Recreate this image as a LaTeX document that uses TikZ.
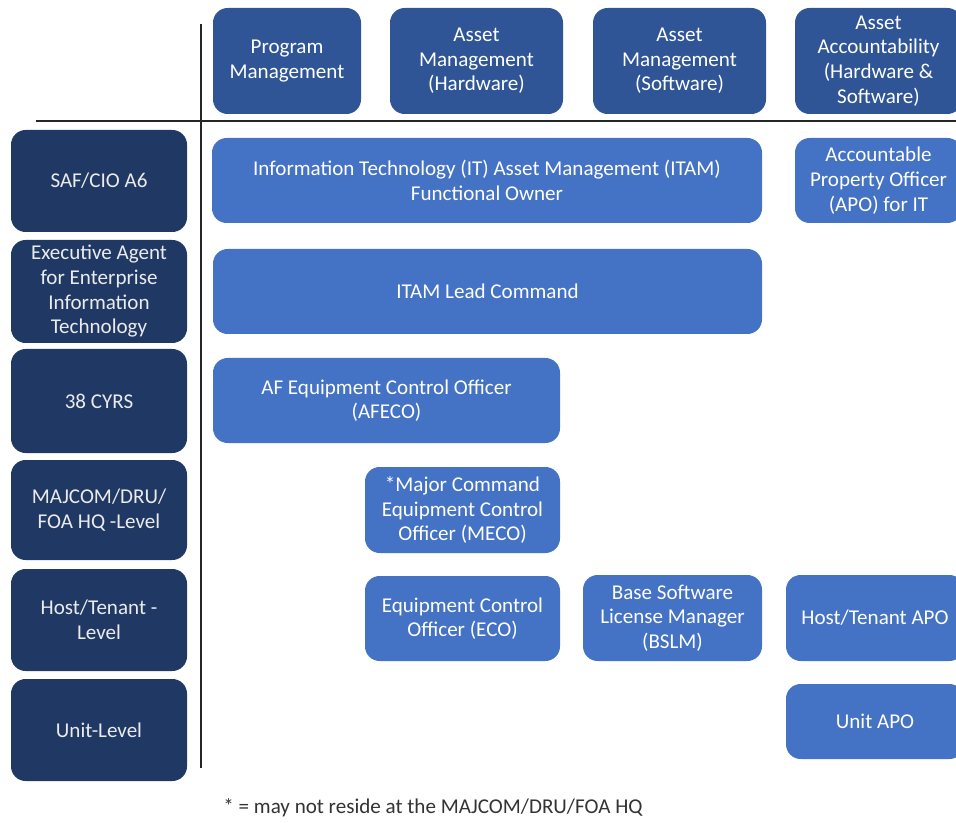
\documentclass[tikz,border=0pt]{standalone}
\usepackage{fontspec}
\setmainfont{Carlito}
\definecolor{hdrblue}{HTML}{2F5597}
\definecolor{navy}{HTML}{1F3864}
\definecolor{cellblue}{HTML}{4472C4}
\definecolor{notegray}{HTML}{333333}
\begin{document}
\begin{tikzpicture}[x=0.75pt,y=-0.75pt,
  base/.style={rounded corners=11pt, inner sep=0pt, text=white, align=center,
    font=\fontsize{15.8}{18.5}\selectfont},
  hdr/.style={base, fill=hdrblue, minimum height=79.5pt},
  lvl/.style={base, fill=navy, minimum width=132pt, text=white!92!black},
  cell/.style={base, fill=cellblue},
  axis/.style={line width=1.6pt, draw=black!85}]
\useasboundingbox (0,0) rectangle (956,823);
\clip (0,0) rectangle (956,823);
% header row
\node[hdr, minimum width=111pt]    (hpm)  at (287,61)   {Program\\Management};
\node[hdr, minimum width=129.75pt] (hamh) at (476.5,61) {Asset\\Management\\(Hardware)};
\node[hdr, minimum width=129.75pt] (hams) at (679.5,61) {Asset\\Management\\(Software)};
\node[hdr, minimum width=125.25pt] (haa)  at (878.5,61) {Asset\\Accountability\\(Hardware \&\\Software)};
% level column
\node[lvl, minimum height=76.5pt]  (saf)  at (99,181)   {SAF/CIO A6};
\node[lvl, minimum height=77.25pt] (exe)  at (99,291.5) {Executive Agent\\for Enterprise\\Information\\Technology};
\node[lvl, minimum height=78pt]    (cyrs) at (99,401)   {38 CYRS};
\node[lvl, minimum height=75pt]    (maj)  at (99,510)   {MAJCOM/DRU/\\FOA HQ -Level};
\node[lvl, minimum height=76.5pt]  (host) at (99,620)   {Host/Tenant -\\Level};
\node[lvl, minimum height=76.5pt]  (unit) at (99,730)   {Unit-Level};
% cells
\node[cell, minimum width=412.5pt, minimum height=63.75pt] (itam)  at (487,180.5)   {Information Technology (IT) Asset Management (ITAM)\\Functional Owner};
\node[cell, minimum width=125.25pt, minimum height=63.75pt] (apo)  at (878.5,180.5) {Accountable\\Property Officer\\(APO) for IT};
\node[cell, minimum width=411.75pt, minimum height=63.75pt] (lead) at (487.5,291.5) {ITAM Lead Command};
\node[cell, minimum width=260.25pt, minimum height=63.75pt] (afeco) at (386.5,400.5) {AF Equipment Control Officer\\(AFECO)};
\node[cell, minimum width=146.25pt, minimum height=64.5pt] (meco) at (462.5,510) {*Major Command\\Equipment Control\\Officer (MECO)};
\node[cell, minimum width=146.25pt, minimum height=63.75pt] (eco) at (462.5,618.5) {Equipment Control\\Officer (ECO)};
\node[cell, minimum width=134.25pt, minimum height=64.5pt] (bslm) at (672.5,618) {Base Software\\License Manager\\(BSLM)};
\node[cell, minimum width=133.5pt, minimum height=64.5pt] (htapo) at (875,618) {Host/Tenant APO};
\node[cell, minimum width=133.5pt, minimum height=56.25pt] (uapo) at (875,721.5) {Unit APO};
% axes
\coordinate (hl) at (36,121);
\coordinate (hr) at (956,121);
\coordinate (vt) at (201,24);
\coordinate (vb) at (201,768);
\draw[axis] (hl) -- (hr);
\draw[axis] (vt) -- (vb);
% footnote
\node[text=notegray, font=\fontsize{15.8}{18.5}\selectfont, inner sep=0pt] (note) at (433,808) {* = may not reside at the MAJCOM/DRU/FOA HQ};
\end{tikzpicture}
\end{document}
